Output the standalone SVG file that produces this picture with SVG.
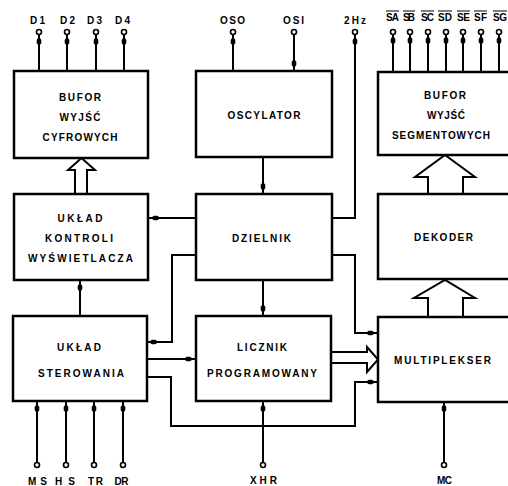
<svg xmlns="http://www.w3.org/2000/svg" xmlns:xlink="http://www.w3.org/1999/xlink" width="508" height="486" viewBox="0 0 508 486">
<style>
.box{fill:#fff;stroke:#000;stroke-width:2.5}
.ln{fill:none;stroke:#000;stroke-width:2}
.hol{fill:#fff;stroke:#000;stroke-width:2;stroke-linejoin:miter}
.pin{fill:#fff;stroke:#000;stroke-width:1.6}
.t{font-family:"Liberation Sans",Arial,sans-serif;font-weight:bold;font-size:10px;text-anchor:middle;fill:#000}
.p{font-family:"Liberation Sans",Arial,sans-serif;font-weight:bold;font-size:10px;fill:#000}
.ob{stroke:#000;stroke-width:1.2}
</style>
<defs>
<path id="ah" d="M0,-4.5 L2.3,-1 L2.3,2 Q2.3,3.8 0,3.8 Q-2.3,3.8 -2.3,2 L-2.3,-1 Z" fill="#000"/>
</defs>
<rect width="508" height="486" fill="#fff"/>

<g id="connectors">
  <!-- top pins -->
  <path class="ln" d="M39,34.5V71 M67,34.5V71 M96,34.5V71 M124,34.5V71"/>
  <path class="ln" d="M233,34.5V71 M294,34.5V71"/>
  <path class="ln" d="M355,34.5V218H332"/>
  <path class="ln" d="M393,34.5V72 M410,34.5V72 M428,34.5V72 M446,34.5V72 M463,34.5V72 M481,34.5V72 M499,34.5V72"/>
  <!-- internal -->
  <path class="ln" d="M263,157V194"/>
  <path class="ln" d="M196,218H148"/>
  <path class="ln" d="M196,255H172V342H147"/>
  <path class="ln" d="M80,280V316"/>
  <path class="ln" d="M263,280V316"/>
  <path class="ln" d="M332,255H355V333H378"/>
  <path class="ln" d="M147,359H196"/>
  <path class="ln" d="M147,377H171V426H355V382H378"/>
  <!-- bottom pins -->
  <path class="ln" d="M37,401V462.5 M66,401V462.5 M94,401V462.5 M123,401V462.5"/>
  <path class="ln" d="M263,401V462.5 M444,402V462.5"/>
  <!-- hollow bus arrows -->
  <path class="hol" d="M75,194V170H68L81.5,158L95,170H87V194"/>
  <path class="hol" d="M428,194V177H415L445,155L475,177H463V194"/>
  <path class="hol" d="M428,317V298H414L445,280L475,298H463V317"/>
  <path class="hol" d="M331,352H367V347L378,359.5L367,372V363H331"/>
  <!-- pin circles -->
  <g class="pin">
    <circle cx="39" cy="32" r="2.5"/><circle cx="67" cy="32" r="2.5"/><circle cx="96" cy="32" r="2.5"/><circle cx="124" cy="32" r="2.5"/>
    <circle cx="233" cy="32" r="2.5"/><circle cx="294" cy="32" r="2.5"/><circle cx="355" cy="32" r="2.5"/>
    <circle cx="393" cy="32" r="2.5"/><circle cx="410" cy="32" r="2.5"/><circle cx="428" cy="32" r="2.5"/><circle cx="446" cy="32" r="2.5"/><circle cx="463" cy="32" r="2.5"/><circle cx="481" cy="32" r="2.5"/><circle cx="499" cy="32" r="2.5"/>
    <circle cx="37" cy="465" r="2.5"/><circle cx="66" cy="465" r="2.5"/><circle cx="94" cy="465" r="2.5"/><circle cx="123" cy="465" r="2.5"/>
    <circle cx="263" cy="465" r="2.5"/><circle cx="444" cy="465" r="2.5"/>
  </g>
  <!-- arrowheads -->
  <use xlink:href="#ah" transform="translate(39,41)"/>
  <use xlink:href="#ah" transform="translate(67,41)"/>
  <use xlink:href="#ah" transform="translate(96,41)"/>
  <use xlink:href="#ah" transform="translate(124,41)"/>
  <use xlink:href="#ah" transform="translate(233,41)"/>
  <use xlink:href="#ah" transform="translate(294,64) rotate(180)"/>
  <use xlink:href="#ah" transform="translate(355,41)"/>
  <use xlink:href="#ah" transform="translate(393,40)"/>
  <use xlink:href="#ah" transform="translate(410,40)"/>
  <use xlink:href="#ah" transform="translate(428,40)"/>
  <use xlink:href="#ah" transform="translate(446,40)"/>
  <use xlink:href="#ah" transform="translate(463,40)"/>
  <use xlink:href="#ah" transform="translate(481,40)"/>
  <use xlink:href="#ah" transform="translate(499,40)"/>
  <use xlink:href="#ah" transform="translate(263,187) rotate(180)"/>
  <use xlink:href="#ah" transform="translate(155,218) rotate(-90)"/>
  <use xlink:href="#ah" transform="translate(153,342) rotate(-90)"/>
  <use xlink:href="#ah" transform="translate(80,287)"/>
  <use xlink:href="#ah" transform="translate(263,309) rotate(180)"/>
  <use xlink:href="#ah" transform="translate(371,333) rotate(90)"/>
  <use xlink:href="#ah" transform="translate(189,359) rotate(90)"/>
  <use xlink:href="#ah" transform="translate(371,382) rotate(90)"/>
  <use xlink:href="#ah" transform="translate(37,408)"/>
  <use xlink:href="#ah" transform="translate(66,408)"/>
  <use xlink:href="#ah" transform="translate(94,408)"/>
  <use xlink:href="#ah" transform="translate(123,408)"/>
  <use xlink:href="#ah" transform="translate(263,408)"/>
  <use xlink:href="#ah" transform="translate(444,408)"/>
</g>

<g id="bufor-cyfrowych">
  <rect class="box" x="14" y="71" width="134" height="87"/>
  <text class="t" x="80" y="100.5" textLength="42" lengthAdjust="spacing">BUFOR</text>
  <text class="t" x="80" y="120.5" textLength="41" lengthAdjust="spacing">WYJŚĆ</text>
  <text class="t" x="80" y="140.5" textLength="75" lengthAdjust="spacing">CYFROWYCH</text>
</g>
<g id="oscylator">
  <rect class="box" x="196" y="71" width="136" height="86"/>
  <text class="t" x="264" y="118.5" textLength="73" lengthAdjust="spacing">OSCYLATOR</text>
</g>
<g id="bufor-segmentowych">
  <rect class="box" x="378" y="72" width="145" height="83"/>
  <text class="t" x="445" y="98.5" textLength="42" lengthAdjust="spacing">BUFOR</text>
  <text class="t" x="446" y="118.5" textLength="38" lengthAdjust="spacing">WYJŚĆ</text>
  <text class="t" x="441" y="138.5" textLength="98" lengthAdjust="spacing">SEGMENTOWYCH</text>
</g>
<g id="uklad-kontroli">
  <rect class="box" x="14" y="194" width="134" height="86"/>
  <text class="t" x="80" y="221.5" textLength="45" lengthAdjust="spacing">UKŁAD</text>
  <text class="t" x="79" y="241.5" textLength="68" lengthAdjust="spacing">KONTROLI</text>
  <text class="t" x="80.5" y="261.5" textLength="105" lengthAdjust="spacing">WYŚWIETLACZA</text>
</g>
<g id="dzielnik">
  <rect class="box" x="196" y="194" width="136" height="86"/>
  <text class="t" x="261.5" y="241.5" textLength="59" lengthAdjust="spacing">DZIELNIK</text>
</g>
<g id="dekoder">
  <rect class="box" x="378" y="194" width="145" height="85"/>
  <text class="t" x="443.5" y="240.5" textLength="59" lengthAdjust="spacing">DEKODER</text>
</g>
<g id="uklad-sterowania">
  <rect class="box" x="13" y="316" width="134" height="85"/>
  <text class="t" x="79" y="350.5" textLength="44" lengthAdjust="spacing">UKŁAD</text>
  <text class="t" x="81" y="376.5" textLength="86" lengthAdjust="spacing">STEROWANIA</text>
</g>
<g id="licznik">
  <rect class="box" x="196" y="316" width="135" height="85"/>
  <text class="t" x="262" y="350.5" textLength="50" lengthAdjust="spacing">LICZNIK</text>
  <text class="t" x="262" y="376.5" textLength="110" lengthAdjust="spacing">PROGRAMOWANY</text>
</g>
<g id="multiplekser">
  <rect class="box" x="378" y="317" width="145" height="85"/>
  <text class="t" x="442.5" y="363.5" textLength="97" lengthAdjust="spacing">MULTIPLEKSER</text>
</g>

<g id="pin-labels">
  <text class="t" x="37.5" y="24" textLength="15" lengthAdjust="spacing">D1</text>
  <text class="t" x="67.5" y="24" textLength="15" lengthAdjust="spacing">D2</text>
  <text class="t" x="94.5" y="24" textLength="15" lengthAdjust="spacing">D3</text>
  <text class="t" x="122.5" y="24" textLength="15" lengthAdjust="spacing">D4</text>
  <text class="t" x="232.5" y="24" textLength="25" lengthAdjust="spacing">OSO</text>
  <text class="t" x="293.5" y="24" textLength="21" lengthAdjust="spacing">OSI</text>
  <text class="t" x="355" y="24" textLength="22" lengthAdjust="spacing">2Hz</text>
  <text class="p" x="386" y="21" textLength="13" lengthAdjust="spacing">SA</text>
  <text class="p" x="403" y="21" textLength="12" lengthAdjust="spacing">SB</text>
  <text class="p" x="421" y="21" textLength="13" lengthAdjust="spacing">SC</text>
  <text class="p" x="438" y="21" textLength="14" lengthAdjust="spacing">SD</text>
  <text class="p" x="457" y="21" textLength="13" lengthAdjust="spacing">SE</text>
  <text class="p" x="474" y="21" textLength="13" lengthAdjust="spacing">SF</text>
  <text class="p" x="493" y="21" textLength="14" lengthAdjust="spacing">SG</text>
  <path class="ob" d="M386,11H399 M403,11H415 M421,11H434 M438,11H452 M457,11H470 M474,11H487 M493,11H507"/>
  <text class="t" x="37.5" y="485" textLength="19" lengthAdjust="spacing">MS</text>
  <text class="t" x="65" y="485" textLength="20" lengthAdjust="spacing">HS</text>
  <text class="t" x="95.5" y="485" textLength="15" lengthAdjust="spacing">TR</text>
  <text class="t" x="121.5" y="485" textLength="14" lengthAdjust="spacing">DR</text>
  <text class="t" x="263.5" y="484" textLength="27" lengthAdjust="spacing">XHR</text>
  <text class="t" x="444.5" y="484" textLength="15" lengthAdjust="spacing">MC</text>
</g>
</svg>
